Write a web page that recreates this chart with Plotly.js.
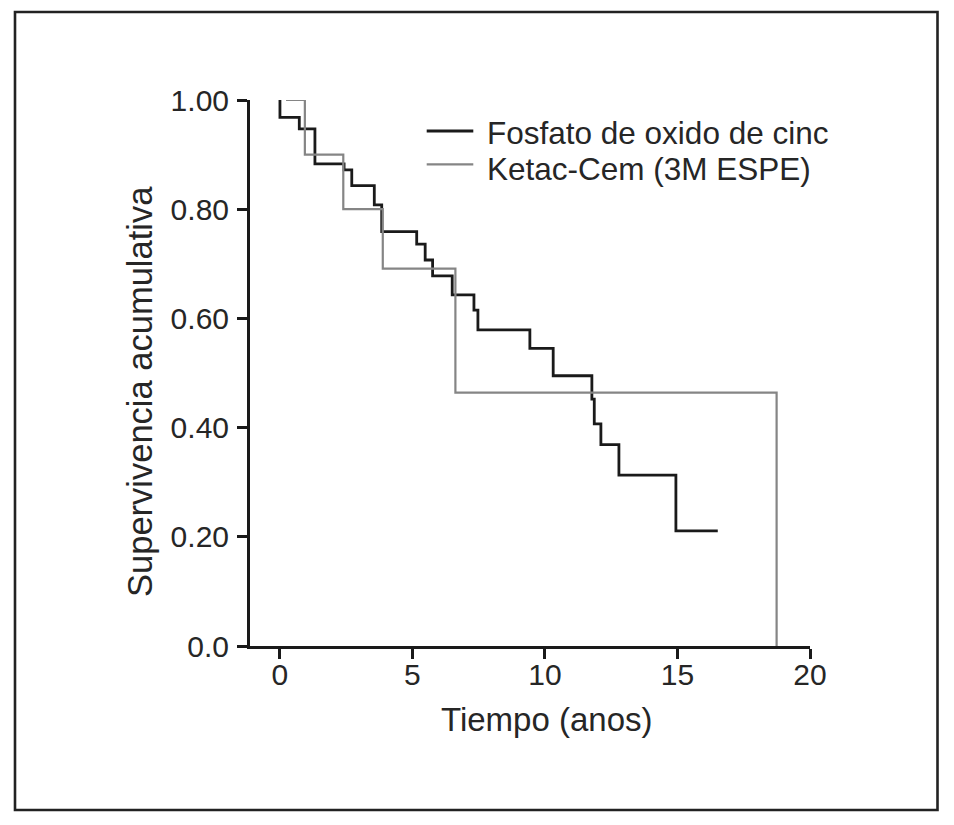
<!DOCTYPE html>
<html>
<head>
<meta charset="utf-8">
<script src="https://cdn.plot.ly/plotly-3.0.1.min.js"></script>
<style>
html,body{margin:0;padding:0;background:#fff;}
#chart{width:954px;height:825px;}
</style>
</head>
<body>
<div id="chart"></div>
<script>
// Fosfato de oxido de cinc (black) — Kaplan-Meier steps
var fosfatoTime = [0, 0, 0.73, 1.32, 2.42, 2.71, 3.56, 3.84, 5.16, 5.48, 5.76, 6.50, 7.32, 7.47, 9.43, 10.31, 11.77, 11.86, 12.11, 12.79, 14.94, 16.52];
var fosfatoSurv = [1.00, 0.968, 0.947, 0.883, 0.872, 0.843, 0.808, 0.759, 0.736, 0.707, 0.678, 0.643, 0.615, 0.579, 0.545, 0.495, 0.452, 0.407, 0.369, 0.313, 0.211, 0.211];
// Ketac-Cem (3M ESPE) (gray)
var ketacTime = [0.23, 0.94, 2.39, 3.88, 6.62, 18.74];
var ketacSurv = [1.00, 0.900, 0.800, 0.691, 0.464, 0.0];

var seriesNames = ['Fosfato de oxido de cinc', 'Ketac-Cem (3M ESPE)'];
var xTickVals = [0, 5, 10, 15, 20];
var xTickText = ['0', '5', '10', '15', '20'];
var yTickVals = [0, 0.2, 0.4, 0.6, 0.8, 1.0];
var yTickText = ['0.0', '0.20', '0.40', '0.60', '0.80', '1.00'];
var xTitle = 'Tiempo (anos)';
var yTitle = 'Supervivencia acumulativa';

var FONT = '"Liberation Sans", Arial, Helvetica, sans-serif';
var INK = '#262626';
var BLACK = '#1a1a1a';
var GRAY = '#858585';

// pixel helpers for paper coordinates (plot area: x 250..810, y 100..646)
function px(x){ return (x - 250) / 560; }
function py(y){ return (646 - y) / 546; }

var traces = [
  {x: fosfatoTime, y: fosfatoSurv, name: seriesNames[0], mode: 'lines',
   line: {shape: 'hv', color: BLACK, width: 2.8}, cliponaxis: false, showlegend: false},
  {x: ketacTime, y: ketacSurv, name: seriesNames[1], mode: 'lines',
   line: {shape: 'hv', color: GRAY, width: 2.2}, cliponaxis: false, showlegend: false}
];

var layout = {
  width: 954, height: 825,
  margin: {l: 250, r: 144, t: 100, b: 179, pad: 0},
  paper_bgcolor: '#ffffff', plot_bgcolor: '#ffffff',
  font: {family: FONT, color: INK, size: 30},
  showlegend: false,
  xaxis: {
    range: [-1.13, 20], showgrid: false, zeroline: false,
    showline: true, linecolor: BLACK, linewidth: 3,
    ticks: 'outside', ticklen: 10, tickwidth: 3, tickcolor: BLACK,
    tickvals: xTickVals, ticktext: xTickText,
    tickfont: {family: FONT, size: 30, color: INK}, ticklabelstandoff: -10
  },
  yaxis: {
    range: [0, 1.0], showgrid: false, zeroline: false,
    showline: true, linecolor: BLACK, linewidth: 3,
    ticks: 'outside', ticklen: 10, tickwidth: 3, tickcolor: BLACK,
    tickvals: yTickVals, ticktext: yTickText,
    tickfont: {family: FONT, size: 30, color: INK}, ticklabelstandoff: 2
  },
  shapes: [
    {type: 'rect', xref: 'paper', yref: 'paper', x0: px(15), x1: px(937.5), y0: py(810), y1: py(12),
     line: {color: '#222', width: 2.6}, fillcolor: 'rgba(0,0,0,0)'},
    {type: 'line', xref: 'paper', yref: 'paper', x0: px(426.7), x1: px(473.3), y0: py(131), y1: py(131),
     line: {color: BLACK, width: 2.8}},
    {type: 'line', xref: 'paper', yref: 'paper', x0: px(426.7), x1: px(473.3), y0: py(164.3), y1: py(164.3),
     line: {color: GRAY, width: 2.2}}
  ],
  annotations: [
    {text: seriesNames[0], xref: 'paper', yref: 'paper', x: px(486), y: py(133), xanchor: 'left', yanchor: 'middle',
     borderpad: 0, showarrow: false, font: {family: FONT, size: 31.5, color: INK}},
    {text: seriesNames[1], xref: 'paper', yref: 'paper', x: px(486), y: py(168.5), xanchor: 'left', yanchor: 'middle',
     borderpad: 0, showarrow: false, font: {family: FONT, size: 31.5, color: INK}},
    {text: xTitle, xref: 'paper', yref: 'paper', x: px(547), y: py(719), xanchor: 'center', yanchor: 'middle',
     showarrow: false, font: {family: FONT, size: 33, color: INK}},
    {text: yTitle, xref: 'paper', yref: 'paper', x: px(140), y: py(392), xanchor: 'center', yanchor: 'middle',
     textangle: -90, showarrow: false, font: {family: FONT, size: 34.5, color: INK}}
  ]
};

Plotly.newPlot('chart', traces, layout, {displayModeBar: false, staticPlot: true});
</script>
</body>
</html>
